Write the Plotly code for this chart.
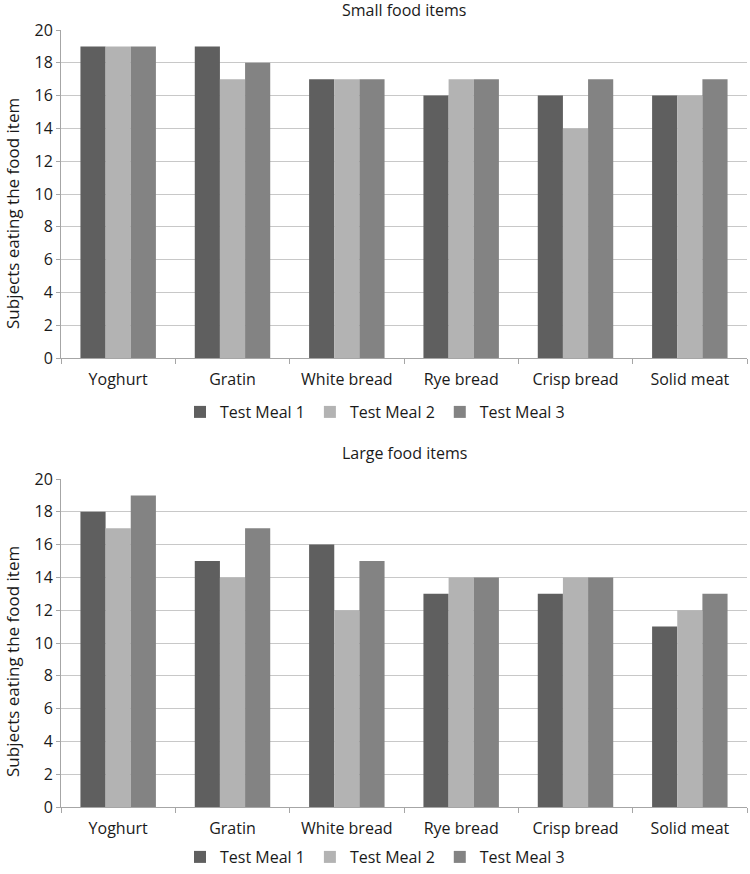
import plotly.graph_objects as go
from plotly.subplots import make_subplots

categories = ["Yoghurt", "Gratin", "White bread", "Rye bread", "Crisp bread", "Solid meat"]
series_names = ["Test Meal 1", "Test Meal 2", "Test Meal 3"]
small_meal1 = [19, 19, 17, 16, 16, 16]
small_meal2 = [19, 17, 17, 17, 14, 16]
small_meal3 = [19, 18, 17, 17, 17, 17]
large_meal1 = [18, 15, 16, 13, 13, 11]
large_meal2 = [17, 14, 12, 14, 14, 12]
large_meal3 = [19, 17, 15, 14, 14, 13]
y_ticks = [0, 2, 4, 6, 8, 10, 12, 14, 16, 18, 20]

colors = ["#5f5f5f", "#b3b3b3", "#838383"]
FONT = "Open Sans"
TXT = "#1a1a1a"

fig = make_subplots(rows=2, cols=1, vertical_spacing=0.1)

for i, (name, vals) in enumerate(zip(series_names, [small_meal1, small_meal2, small_meal3])):
    fig.add_trace(go.Bar(x=categories, y=vals, name=name, marker_color=colors[i],
                         marker_line_width=0, legend="legend"), row=1, col=1)
for i, (name, vals) in enumerate(zip(series_names, [large_meal1, large_meal2, large_meal3])):
    fig.add_trace(go.Bar(x=categories, y=vals, name=name, marker_color=colors[i],
                         marker_line_width=0, legend="legend2"), row=2, col=1)

W, H = 750, 874
L, R = 61, 3
PW = W - L - R
top_dom = [1 - 358 / H, 1 - 30 / H]
bot_dom = [1 - 807 / H, 1 - 479 / H]

xaxis_style = dict(
    type="category", showline=True, linecolor="#a6a6a6", linewidth=1,
    ticks="outside", tickson="boundaries", ticklen=5, tickcolor="#a6a6a6",
    showgrid=False, tickfont=dict(family=FONT, size=16, color=TXT),
    ticklabelstandoff=7, automargin=False,
)
yaxis_style = dict(
    range=[0, 20], tickvals=y_ticks, showline=True, linecolor="#a6a6a6", linewidth=1,
    ticks="outside", ticklen=4, tickcolor="#a6a6a6",
    showgrid=True, gridcolor="#c8c8c8", gridwidth=1, zeroline=False,
    tickfont=dict(family=FONT, size=16, color=TXT), automargin=False,
)

fig.update_xaxes(**xaxis_style)
fig.update_yaxes(**yaxis_style)
fig.update_layout(
    xaxis=dict(domain=[0, 1]), xaxis2=dict(domain=[0, 1]),
    yaxis=dict(domain=top_dom), yaxis2=dict(domain=bot_dom),
)

ytitle = "Subjects eating the food item"
ann_font = dict(family=FONT, size=16, color=TXT)
leg_x = (375 - L) / PW
fig.update_layout(
    width=W, height=H,
    margin=dict(l=L, r=R, t=0, b=0, autoexpand=False),
    paper_bgcolor="white", plot_bgcolor="white",
    barmode="group", bargap=0.34, bargroupgap=0,
    font=dict(family=FONT, color=TXT),
    legend=dict(orientation="h", x=leg_x, xanchor="center", y=1 - 412 / H, yanchor="middle",
                font=dict(family=FONT, size=16), itemwidth=30, traceorder="normal"),
    legend2=dict(orientation="h", x=leg_x, xanchor="center", y=1 - 857 / H, yanchor="middle",
                 font=dict(family=FONT, size=16), itemwidth=30, traceorder="normal"),
    annotations=[
        dict(text="Small food items", x=(404 - L) / PW, y=1 - 10 / H, xref="paper", yref="paper",
             showarrow=False, font=ann_font, yanchor="middle"),
        dict(text="Large food items", x=(404 - L) / PW, y=1 - 453 / H, xref="paper", yref="paper",
             showarrow=False, font=ann_font, yanchor="middle"),
        dict(text=ytitle, x=(12 - L) / PW, y=1 - 214 / H, xref="paper", yref="paper",
             showarrow=False, textangle=-90, font=dict(family=FONT, size=17, color=TXT),
             xanchor="center", yanchor="middle"),
        dict(text=ytitle, x=(12 - L) / PW, y=1 - 662 / H, xref="paper", yref="paper",
             showarrow=False, textangle=-90, font=dict(family=FONT, size=17, color=TXT),
             xanchor="center", yanchor="middle"),
    ],
)

fig.write_html("out.html", config={"displayModeBar": False},
               post_script="document.body.style.margin='0';document.body.style.padding='0';")
